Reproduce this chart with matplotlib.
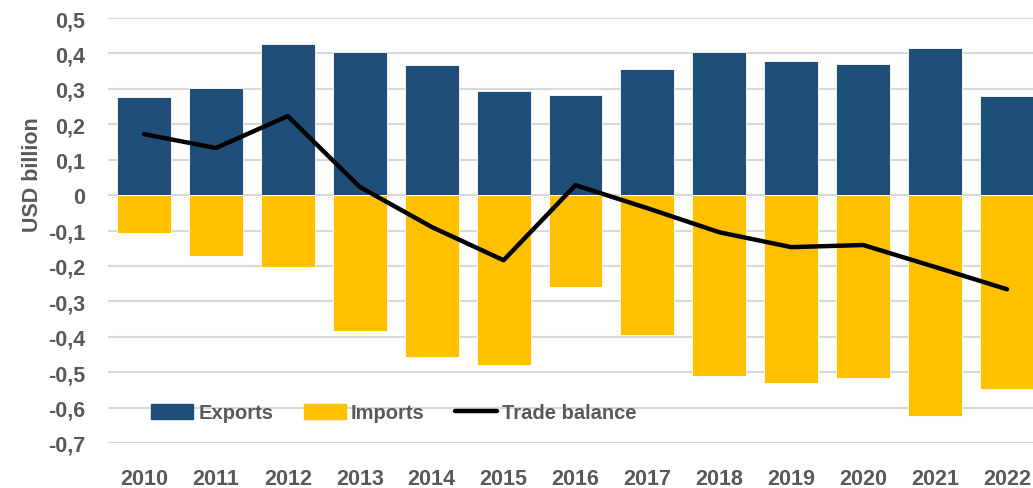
import numpy as np
import matplotlib.pyplot as plt
from matplotlib.patches import Patch
from matplotlib.lines import Line2D
from matplotlib.ticker import FuncFormatter

years = ['2010', '2011', '2012', '2013', '2014', '2015', '2016',
         '2017', '2018', '2019', '2020', '2021', '2022']
exports = [0.277, 0.302, 0.427, 0.404, 0.367, 0.294, 0.282,
           0.356, 0.404, 0.379, 0.370, 0.415, 0.280]
imports = [-0.107, -0.172, -0.203, -0.384, -0.458, -0.480, -0.260,
           -0.395, -0.511, -0.531, -0.517, -0.624, -0.548]
balance = [0.172, 0.133, 0.223, 0.023, -0.090, -0.184, 0.028,
           -0.037, -0.105, -0.147, -0.141, -0.203, -0.266]

plt.rcParams['font.family'] = ['Liberation Sans', 'DejaVu Sans']
plt.rcParams['font.weight'] = 'bold'
plt.rcParams['xtick.major.pad'] = 18
plt.rcParams['ytick.major.pad'] = 16.5
grey = '#595959'
c_exp = '#1F4E79'
c_imp = '#FFC000'

fig = plt.figure(figsize=(10.33, 4.89), dpi=100)
ax = fig.add_axes([108/1033, 45/489, 935/1033, 425/489])

x = np.arange(len(years))
ax.bar(x, exports, width=0.75, color=c_exp, edgecolor='white', linewidth=0.6, zorder=2)
ax.bar(x, imports, width=0.75, color=c_imp, edgecolor='white', linewidth=0.6, zorder=2)
ax.plot(x, balance, color='black', lw=3.2, solid_capstyle='round', solid_joinstyle='round', zorder=3)

ax.set_xlim(-0.5, len(years) - 0.5)
ax.set_ylim(-0.7, 0.5)
ax.set_yticks(np.arange(-0.7, 0.51, 0.1))
ax.yaxis.set_major_formatter(FuncFormatter(
    lambda v, p: '0' if abs(v) < 1e-9 else ('%.1f' % v).replace('.', ',')))
ax.set_xticks(x)
ax.set_xticklabels(years)
ax.tick_params(axis='both', length=0, labelsize=15.5, colors=grey)
ax.grid(axis='y', color='#D9D9D9', lw=1.5, zorder=0)
ax.set_axisbelow(True)
for s in ax.spines.values():
    s.set_visible(False)

fig.text(33/1033, 1 - 175/489, 'USD billion', rotation=90, ha='center', va='center',
         fontsize=15.5, color=grey, fontweight='bold')

handles = [Patch(color=c_exp, label='Exports'),
           Patch(color=c_imp, label='Imports'),
           Line2D([], [], color='black', lw=3.2, solid_capstyle='round', label='Trade balance')]
leg = ax.legend(handles=handles, ncol=3, loc='center', bbox_to_anchor=(394/1033, 1 - 414/489),
                bbox_transform=fig.transFigure, frameon=False, fontsize=14.5,
                handlelength=2.1, handleheight=0.8, handletextpad=0.25, columnspacing=1.5)
for t in leg.get_texts():
    t.set_color(grey)

fig.savefig('out.png', dpi=100)
